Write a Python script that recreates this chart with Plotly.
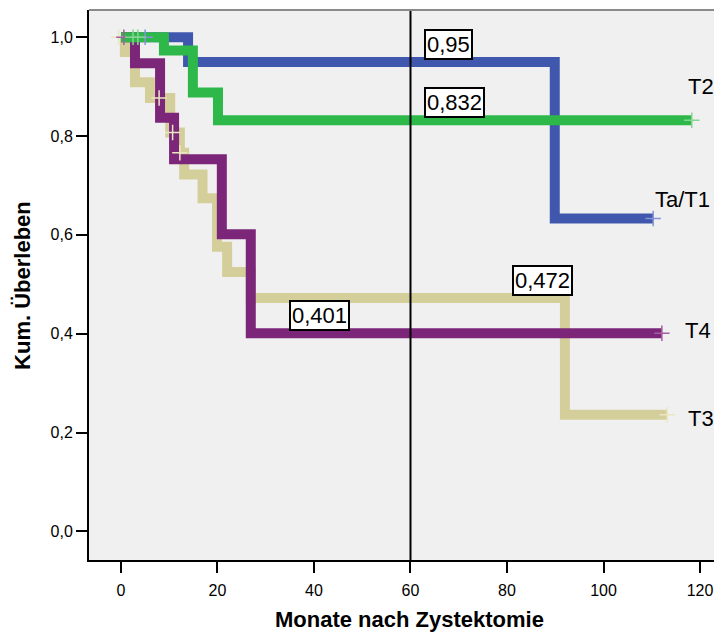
import plotly.graph_objects as go

# ---- data (months, cumulative survival) ----
blue_t = [0, 13.9, 89.9, 110.3]
blue_s = [1.0, 0.95, 0.633, 0.633]

green_t = [0, 8.9, 14.9, 20.1, 118.3]
green_s = [1.0, 0.973, 0.888, 0.832, 0.832]

purple_t = [0, 2.9, 8.1, 11.0, 20.9, 26.9, 112.1]
purple_s = [1.0, 0.947, 0.837, 0.753, 0.601, 0.401, 0.401]

beige_t = [0, 0.8, 2.9, 6.0, 10.2, 12.2, 13.1, 16.9, 19.9, 22.0, 26.9, 92.0, 113.2]
beige_s = [1.0, 0.970, 0.909, 0.877, 0.807, 0.766, 0.722, 0.674, 0.576, 0.525, 0.472, 0.236, 0.236]

# censored observations
blue_ct = [5.0, 110.3]
blue_cs = [1.0, 0.633]
green_ct = [2.5, 3.5, 118.3]
green_cs = [1.0, 1.0, 0.832]
purple_ct = [0.6, 112.1]
purple_cs = [1.0, 0.401]
beige_ct = [-0.5, 7.9, 10.7, 12.2, 113.2]
beige_cs = [1.0, 0.877, 0.807, 0.766, 0.236]

group_names = ["Ta/T1", "T2", "T3", "T4"]
x_ticks = [0, 20, 40, 60, 80, 100, 120]
y_ticks = [0.0, 0.2, 0.4, 0.6, 0.8, 1.0]
y_ticktext = ["0,0", "0,2", "0,4", "0,6", "0,8", "1,0"]
ref_month = 60
ref_labels = ["0,95", "0,832", "0,472", "0,401"]

BLUE, GREEN, PURPLE, BEIGE = "#3f58ad", "#2fb84a", "#7b2679", "#d4cf9a"
FONT = "Arial, Liberation Sans, sans-serif"

fig = go.Figure()

def curve(t, s, color, name):
    fig.add_trace(go.Scatter(x=t, y=s, mode="lines", line=dict(color=color, width=10, shape="hv"),
                             name=name, showlegend=False, hoverinfo="skip"))

curve(blue_t, blue_s, BLUE, group_names[0])
curve(beige_t, beige_s, BEIGE, group_names[2])
curve(purple_t, purple_s, PURPLE, group_names[3])
curve(green_t, green_s, GREEN, group_names[1])

def cens(t, s, color):
    fig.add_trace(go.Scatter(x=t, y=s, mode="markers",
                             marker=dict(symbol="cross-thin", size=11, line=dict(color=color, width=1.5)),
                             showlegend=False, hoverinfo="skip"))

cens(blue_ct, blue_cs, "#8394d6")
cens(beige_ct, beige_cs, "#ebe6c2")
cens(purple_ct, purple_cs, "#a45ea4")
cens(green_ct, green_cs, "#82d692")

# reference line at 60 months
fig.add_shape(type="line", x0=ref_month, x1=ref_month, y0=0, y1=1, xref="x", yref="paper",
              line=dict(color="black", width=2))
# top border
fig.add_shape(type="line", x0=0, x1=1, y0=1, y1=1, xref="paper", yref="paper",
              line=dict(color="#8a8a8a", width=2))

box_pos = [(67.9, 0.986), (69.2, 0.868), (87.3, 0.508), (41.2, 0.437)]
for txt, (bx, by) in zip(ref_labels, box_pos):
    fig.add_annotation(x=bx, y=by, xref="x", yref="y", text=txt, showarrow=False,
                       font=dict(family=FONT, size=22, color="black"),
                       bgcolor="white", bordercolor="black", borderwidth=2, borderpad=1)

name_pos = [(116.3, 0.671), (120.3, 0.901), (120.2, 0.228), (119.6, 0.406)]
for txt, (nx, ny) in zip(group_names, name_pos):
    fig.add_annotation(x=nx, y=ny, xref="x", yref="y", text=txt, showarrow=False,
                       font=dict(family=FONT, size=22, color="black"))

fig.add_annotation(x=0.507, y=-0.109, xref="paper", yref="paper", text="<b>Monate nach Zystektomie</b>",
                   xanchor="center", yanchor="middle",
                   showarrow=False, font=dict(family=FONT, size=22, color="black"))
fig.add_annotation(x=-0.106, y=0.5, xref="paper", yref="paper", text="<b>Kum. Überleben</b>",
                   xanchor="center", yanchor="middle",
                   textangle=-90, showarrow=False, font=dict(family=FONT, size=22, color="black"))

# page body has an 8px margin, so the figure is 8px smaller than the window
fig.update_layout(
    width=714, height=626,
    margin=dict(l=81, r=0, t=2, b=74),
    plot_bgcolor="#f0f0f0", paper_bgcolor="white",
    font=dict(family=FONT, size=16, color="black"),
    xaxis=dict(range=[-6.63, 124.56], tickvals=x_ticks, ticks="outside", ticklen=11, tickwidth=2,
               tickcolor="black", showline=True, linecolor="black", linewidth=2, showgrid=False,
               zeroline=False, tickfont=dict(size=16), ticklabelstandoff=4),
    yaxis=dict(range=[-0.058, 1.055], tickvals=y_ticks, ticktext=y_ticktext, ticks="outside",
               ticklen=11, tickwidth=2, tickcolor="black", showline=True, linecolor="black",
               linewidth=2, showgrid=False, zeroline=False, tickfont=dict(size=16)),
)

fig.write_html("out.html")
